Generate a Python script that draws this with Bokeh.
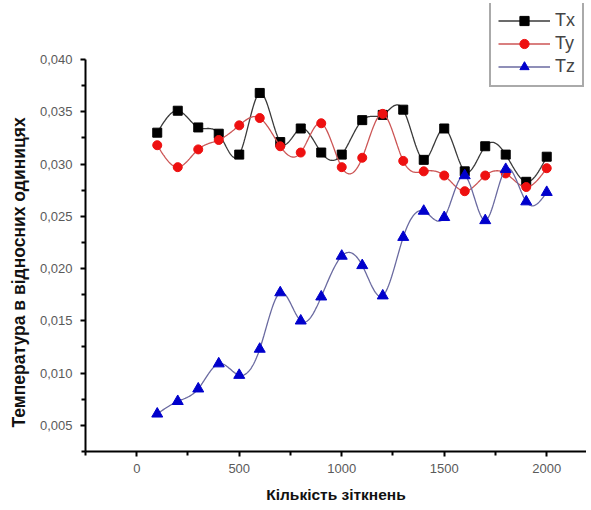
import numpy as np
from bokeh.plotting import figure
from bokeh.models import FixedTicker, Legend, LegendItem, Range1d, Title
from bokeh.embed import file_html
from bokeh.resources import INLINE

collisions = [100, 200, 300, 400, 500, 600, 700, 800, 900, 1000,
              1100, 1200, 1300, 1400, 1500, 1600, 1700, 1800, 1900, 2000]
tx = [0.0330, 0.0351, 0.0335, 0.0329, 0.0309, 0.0368, 0.0321, 0.0334, 0.0311, 0.0309,
      0.0342, 0.0347, 0.0352, 0.0304, 0.0334, 0.0293, 0.0317, 0.0309, 0.0283, 0.0307]
ty = [0.0318, 0.0297, 0.0314, 0.0323, 0.0337, 0.0344, 0.0317, 0.0311, 0.0339, 0.0297,
      0.0306, 0.0348, 0.0303, 0.0293, 0.0289, 0.0274, 0.0289, 0.0291, 0.0278, 0.0296]
tz = [0.0061, 0.0073, 0.0085, 0.0109, 0.0098, 0.0123, 0.0177, 0.0150, 0.0173, 0.0212,
      0.0203, 0.0174, 0.0230, 0.0255, 0.0249, 0.0289, 0.0246, 0.0295, 0.0264, 0.0273]

x_ticks = [0, 500, 1000, 1500, 2000]
x_minor = [-250, 250, 750, 1250, 1750]
y_ticks = [0.005, 0.010, 0.015, 0.020, 0.025, 0.030, 0.035, 0.040]
y_tick_labels = ["0,005", "0,010", "0,015", "0,020", "0,025", "0,030", "0,035", "0,040"]
y_minor = [0.0025, 0.0075, 0.0125, 0.0175, 0.0225, 0.0275, 0.0325, 0.0375]

x_title = "Кількість зіткнень"
y_title = "Температура в відносних одиницях"
names = ["Tx", "Ty", "Tz"]


def spline(x, y, n=25):
    x = np.asarray(x, float)
    y = np.asarray(y, float)
    m = len(x)
    h = np.diff(x)
    A = np.zeros((m, m))
    b = np.zeros(m)
    A[0, 0] = 1
    A[-1, -1] = 1
    for i in range(1, m - 1):
        A[i, i - 1] = h[i - 1]
        A[i, i] = 2 * (h[i - 1] + h[i])
        A[i, i + 1] = h[i]
        b[i] = 3 * ((y[i + 1] - y[i]) / h[i] - (y[i] - y[i - 1]) / h[i - 1])
    c = np.linalg.solve(A, b)
    xs, ys = [], []
    for i in range(m - 1):
        bb = (y[i + 1] - y[i]) / h[i] - h[i] * (2 * c[i] + c[i + 1]) / 3
        d = (c[i + 1] - c[i]) / (3 * h[i])
        t = np.linspace(0, h[i], n, endpoint=(i == m - 2))
        xs.extend(x[i] + t)
        ys.extend(y[i] + bb * t + c[i] * t ** 2 + d * t ** 3)
    return xs, ys


p = figure(width=586, height=508, output_backend="svg", toolbar_location=None,
           x_range=Range1d(-250, 2194), y_range=Range1d(0.0025, 0.045357),
           min_border_left=85, min_border_top=3, min_border_bottom=57, min_border_right=0)
p.outline_line_color = None
p.xgrid.visible = False
p.ygrid.visible = False
p.background_fill_color = "white"

series = [
    (tx, "#3a3a3a", "#000000", "square", 9),
    (ty, "#cc5555", "#ee1010", "circle", 9),
    (tz, "#6a6aa0", "#0000cc", "triangle", 11),
]
items = []
for (vals, lc, mc, mk, sz), nm in zip(series, names):
    sx, sy = spline(collisions, vals)
    lr = p.line(sx, sy, line_color=lc, line_width=1.3)
    sr = p.scatter(collisions, vals, marker=mk, size=sz, fill_color=mc, line_color=mc)
    items.append(LegendItem(label=nm, renderers=[lr, sr]))

legend = Legend(items=items, location=(404, 364), border_line_color="#555555",
                border_line_width=2, background_fill_color="white", background_fill_alpha=1,
                label_text_font="Liberation Sans", label_text_font_size="18px",
                glyph_width=52, glyph_height=23, spacing=0, padding=7, margin=0,
                label_standoff=5)
p.add_layout(legend, "center")

p.xaxis.ticker = FixedTicker(ticks=x_ticks, minor_ticks=x_minor)
p.yaxis.ticker = FixedTicker(ticks=y_ticks, minor_ticks=y_minor)
p.yaxis.major_label_overrides = {t: l for t, l in zip(y_ticks, y_tick_labels)}
p.yaxis.bounds = (0.0025, 0.040)

for ax in (p.xaxis[0], p.yaxis[0]):
    ax.axis_line_color = "black"
    ax.axis_line_width = 2
    ax.major_tick_line_color = "black"
    ax.major_tick_line_width = 2
    ax.minor_tick_line_color = "black"
    ax.minor_tick_line_width = 2
    ax.major_tick_in = 0
    ax.major_tick_out = 5
    ax.minor_tick_in = 0
    ax.minor_tick_out = 4
    ax.major_label_text_font = "Liberation Sans"
    ax.major_label_text_font_size = "13px"
    ax.major_label_text_color = "#5a5a5a"
    ax.axis_label_text_font = "Liberation Sans"
    ax.axis_label_text_font_size = "15.5px"
    ax.axis_label_text_font_style = "bold"
    ax.axis_label_text_color = "#111111"

p.xaxis.axis_label = x_title
p.xaxis.major_label_standoff = 7
p.yaxis.major_label_standoff = 8
p.xaxis.axis_label_standoff = 10

ytitle = Title(text=y_title, align="left", offset=24, vertical_align="middle",
               text_font="Liberation Sans", text_font_size="17.5px",
               text_font_style="bold", text_color="#111111", standoff=14)
p.add_layout(ytitle, "left")

open("out.html", "w").write(file_html(p, INLINE))
